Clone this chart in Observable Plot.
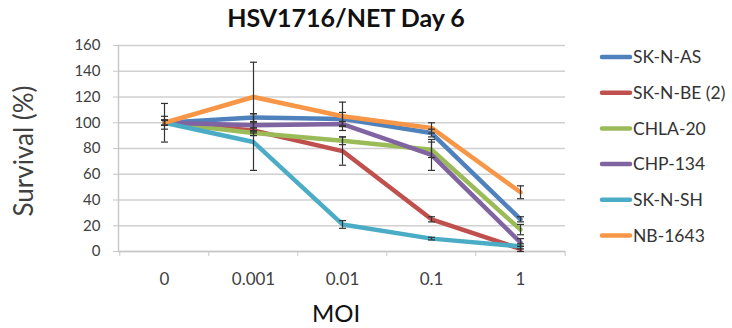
<!DOCTYPE html>
<html><head><meta charset="utf-8">
<script src="https://cdn.jsdelivr.net/npm/d3@7"></script>
<script src="https://cdn.jsdelivr.net/npm/@observablehq/plot@0.6"></script>
<style>
body{margin:0;background:#fff;font-family:Lato,"Open Sans",sans-serif;}
#wrap{position:relative;width:732px;height:328px;overflow:hidden;}
#wrap svg{position:absolute;left:0;top:0;}
</style></head>
<body><div id="wrap"></div>
<script>
const moi = ["0", "0.001", "0.01", "0.1", "1"];
const seriesNames = ["SK-N-AS", "SK-N-BE (2)", "CHLA-20", "CHP-134", "SK-N-SH", "NB-1643"];
const colors = ["#4F81BD", "#C0504D", "#9BBB59", "#8064A2", "#4BACC6", "#F79646"];

const skNAs   = [100, 104, 103, 92, 25];
const skNBe2  = [100, 94, 78, 25, 2];
const chla20  = [100, 92, 86, 79, 17];
const chp134  = [100, 98, 99, 75, 7];
const skNSh   = [100, 85, 21, 10, 4];
const nb1643  = [100, 120, 105, 96, 46];

const skNAsErr  = [5, 3, 5, 3, 2];
const skNBe2Err = [2, 2, 11, 2, 2];
const chla20Err = [2, 2, 3, 6, 4];
const chp134Err = [2, 2, 2, 12, 3];
const skNShErr  = [2, 22, 3, 1, 2];
const nb1643Err = [15, 27, 11, 4, 5];

const titleText = "HSV1716/NET Day 6";
const yLabel = "Survival (%)";
const xLabel = "MOI";

const values = [skNAs, skNBe2, chla20, chp134, skNSh, nb1643];
const errs = [skNAsErr, skNBe2Err, chla20Err, chp134Err, skNShErr, nb1643Err];
const yTicks = [0, 20, 40, 60, 80, 100, 120, 140, 160];

const data = [];
seriesNames.forEach((s, i) => moi.forEach((m, j) => data.push({series: s, moi: m, value: values[i][j], err: errs[i][j]})));

const W = 732, H = 328, mL = 118, mR = 167, mT = 45, mB = 77;
const half = (W - mL - mR) / moi.length / 2;

const capSymbol = {draw(ctx) { ctx.moveTo(-3.5, 0); ctx.lineTo(3.5, 0); }};

const chart = Plot.plot({
  width: W, height: H,
  marginLeft: mL, marginRight: mR, marginTop: mT, marginBottom: mB,
  style: {fontFamily: "Lato, 'Open Sans', sans-serif", fontSize: "15px", color: "#404040", background: "transparent"},
  x: {type: "point", domain: moi, padding: 0.5},
  y: {domain: [0, 160]},
  color: {domain: seriesNames, range: colors},
  marks: [
    Plot.gridY(yTicks, {stroke: "#d0d0d0", strokeOpacity: 1, strokeWidth: 1.5}),
    Plot.frame({anchor: "left", stroke: "#c8c8c8", strokeWidth: 1.5}),
    Plot.ruleY([0], {stroke: "#c8c8c8", strokeWidth: 1.5}),
    Plot.axisY({ticks: yTicks, tickSize: 5, tickPadding: 13, label: null, stroke: "#c8c8c8", fontSize: 15}),
    Plot.axisX({ticks: moi, tickSize: 0, tickPadding: 21, label: null, fontSize: 17}),
    Plot.axisX({ticks: moi, tickSize: 5, tickFormat: () => "", label: null, dx: -half, stroke: "#c8c8c8"}),
    Plot.axisX({ticks: [moi[moi.length - 1]], tickSize: 5, tickFormat: () => "", label: null, dx: half, stroke: "#c8c8c8"}),
    Plot.line(data, {x: "moi", y: "value", z: "series", stroke: "series", strokeWidth: 4.5, strokeLinejoin: "round", strokeLinecap: "round"}),
    Plot.ruleX(data, {x: "moi", y1: d => d.value - d.err, y2: d => d.value + d.err, stroke: "#333", strokeWidth: 1.2}),
    Plot.dot(data, {x: "moi", y: d => d.value - d.err, symbol: capSymbol, stroke: "#333", strokeWidth: 1.2, r: 3}),
    Plot.dot(data, {x: "moi", y: d => d.value + d.err, symbol: capSymbol, stroke: "#333", strokeWidth: 1.2, r: 3})
  ]
});

const wrap = document.getElementById("wrap");
wrap.appendChild(chart);

// overlay with title, axis labels, legend
const ov = d3.select(wrap).append("svg")
  .attr("width", W).attr("height", H)
  .style("font-family", "Lato, 'Open Sans', sans-serif");

ov.append("text").attr("x", 346).attr("y", 27).attr("text-anchor", "middle")
  .attr("font-weight", "bold").attr("font-size", 25).attr("fill", "#111").text(titleText);
ov.append("text").attr("transform", "translate(33,151) rotate(-90)").attr("text-anchor", "middle")
  .attr("font-size", 26).attr("fill", "#404040").text(yLabel);
ov.append("text").attr("x", 336).attr("y", 322).attr("text-anchor", "middle")
  .attr("font-size", 24).attr("fill", "#111").text(xLabel);

const leg = ov.append("g").selectAll("g").data(seriesNames).join("g")
  .attr("transform", (d, i) => `translate(600,${57 + i * 35.7})`);
leg.append("line").attr("x1", 2).attr("x2", 30).attr("y1", 0).attr("y2", 0)
  .attr("stroke", (d, i) => colors[i]).attr("stroke-width", 4.5).attr("stroke-linecap", "round");
leg.append("text").attr("x", 33).attr("y", 6.3).attr("font-size", 17.5).attr("fill", "#333").text(d => d);
</script>
</body></html>
